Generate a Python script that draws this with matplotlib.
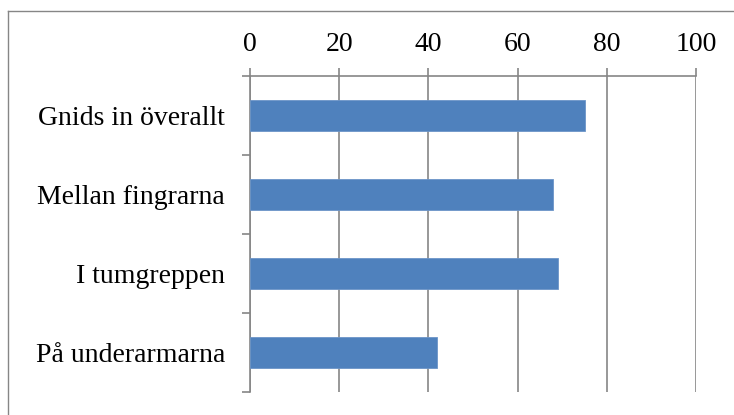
import matplotlib.pyplot as plt
from matplotlib.lines import Line2D

categories = ["Gnids in överallt", "Mellan fingrarna", "I tumgreppen", "På underarmarna"]
values = [75, 68, 69, 42]
xticks = [0, 20, 40, 60, 80, 100]

plt.rcParams["font.family"] = ["Liberation Serif", "DejaVu Serif"]
grey = "#868686"

fig = plt.figure(figsize=(7.34, 4.15), dpi=100)
ax = fig.add_axes([250 / 734, 1 - 392 / 415, 446 / 734, 316 / 415])

pos = range(len(categories))
ax.barh(pos, values, height=0.4, color="#4F81BD", edgecolor="#6C95C8", linewidth=0.6, zorder=3)

ax.set_xlim(0, 100)
ax.set_ylim(len(categories) - 0.5, -0.5)

ax.xaxis.tick_top()
ax.set_xticks(xticks)
ax.set_xticklabels([str(t) for t in xticks])
ax.tick_params(axis="x", direction="out", length=5.5, width=1.2, color=grey,
               labelsize=20, pad=8)
ax.grid(axis="x", color=grey, linewidth=1.2, zorder=0)

# category labels sit between the boundary ticks
ax.set_yticks([p - 0.5 for p in pos] + [len(categories) - 0.5])
ax.set_yticklabels([])
ax.set_yticks(list(pos), minor=True)
ax.set_yticklabels(categories, minor=True)
ax.tick_params(axis="y", which="major", direction="out", length=6, width=1.2, color=grey)
ax.tick_params(axis="y", which="minor", length=0, labelsize=20, pad=18)

for side in ["right", "bottom"]:
    ax.spines[side].set_visible(False)
for side in ["left", "top"]:
    ax.spines[side].set_color(grey)
    ax.spines[side].set_linewidth(1.2)

# outer chart frame
fig.add_artist(Line2D([8 / 734, 8 / 734], [0, 1 - 11 / 415], color=grey, linewidth=1))
fig.add_artist(Line2D([8 / 734, 1], [1 - 11 / 415, 1 - 11 / 415], color=grey, linewidth=1))

fig.savefig("out.png", dpi=100)
